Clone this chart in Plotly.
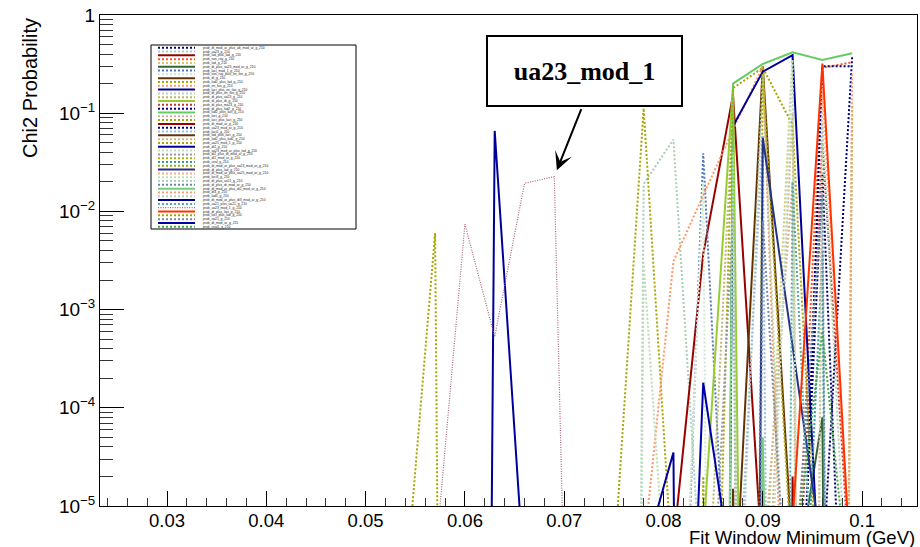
import math
import plotly.graph_objects as go

# Fit window minimum (GeV) at which every chi2 probability curve is sampled
fit_min = [0.054, 0.057, 0.060, 0.063, 0.066, 0.069, 0.072, 0.075,
           0.078, 0.081, 0.084, 0.087, 0.090, 0.093, 0.096, 0.099]

Z = 1e-40  # probability that vanishes far below the axis floor

p01 = [Z, Z, Z, Z, Z, Z, Z, Z, Z, Z, Z, Z, Z, Z, 2e-6, 0.38]
p02 = [Z, Z, Z, Z, Z, Z, Z, Z, 0.019, 0.054, 7.4e-7, Z, Z, Z, Z, Z]
p03 = [Z, Z, Z, Z, Z, Z, Z, Z, Z, 4e-6, 3.7e-3, 0.153, 2.3e-6, Z, Z, Z]
p04 = [Z, Z, Z, Z, Z, Z, Z, Z, Z, Z, Z, Z, Z, 2e-7, 0.29, 0.33]
p05 = [Z, Z, Z, Z, Z, Z, Z, Z, Z, Z, Z, Z, 5e-7, 0.40, Z, Z]
p06 = [Z, Z, Z, Z, Z, Z, Z, Z, Z, Z, Z, Z, Z, 1e-6, 8e-5, Z]
p07 = [Z, Z, Z, Z, Z, Z, Z, Z, Z, 2e-10, 0.039, 4e-8, Z, Z, Z, Z]
p08 = [Z, Z, Z, Z, Z, Z, Z, Z, Z, 1e-9, 0.02, Z, Z, Z, Z, Z]
p09 = [Z, Z, Z, Z, Z, Z, Z, Z, Z, Z, Z, 4.4e-7, 0.30, 3.2e-6, Z, Z]
p10 = [Z, Z, Z, Z, Z, Z, Z, 2.4e-6, 0.112, 1.5e-6, Z, Z, Z, Z, Z, Z]
p11 = [Z, Z, Z, Z, Z, Z, Z, Z, 3.5e-6, 3.1e-3, 0.0145, 0.068, 0.30, 1e-9, Z, Z]
p12 = [Z, Z, Z, Z, Z, Z, Z, Z, Z, Z, Z, 0.074, 0.265, 0.39, 4e-7, Z]
p13 = [Z, Z, Z, Z, Z, Z, Z, Z, Z, Z, Z, 1e-8, 0.25, 1e-8, Z, Z]
p14 = [Z, Z, Z, Z, Z, Z, Z, Z, Z, Z, 1e-7, 0.12, Z, Z, Z, Z]
p15 = [Z, Z, Z, Z, Z, Z, Z, Z, Z, Z, 4.9e-6, 0.19, 1e-25, Z, Z, Z]
p16 = [Z, Z, Z, Z, Z, Z, Z, Z, Z, Z, Z, Z, Z, 1e-7, 0.05, 1e-6]
p17 = [Z, Z, Z, Z, Z, Z, Z, Z, Z, Z, Z, Z, Z, 1e-8, 0.024, 1e-9]
p18 = [Z, Z, Z, Z, Z, Z, Z, Z, Z, Z, Z, 0.20, 0.317, 0.417, 0.348, 0.407]
p19 = [Z, Z, Z, Z, Z, Z, Z, Z, Z, Z, Z, Z, 1e-7, 0.1, Z, Z]
p20 = [Z, Z, Z, Z, Z, Z, Z, Z, Z, Z, 1e-12, 0.18, 0.29, 0.076, 1.6e-7, Z]
p21 = [Z, Z, Z, Z, Z, Z, Z, Z, Z, Z, Z, Z, Z, 2e-5, Z, Z]
p22 = [Z, Z, Z, Z, Z, Z, Z, Z, Z, Z, Z, Z, Z, 1e-9, 0.30, 0.30]
p23 = [Z, Z, Z, Z, Z, Z, Z, Z, Z, Z, Z, 1e-7, 0.06, Z, Z, Z]
p24 = [Z, Z, Z, Z, Z, Z, Z, Z, Z, Z, Z, 1.5e-5, Z, Z, Z, Z]
p25 = [Z, Z, Z, Z, Z, Z, Z, Z, Z, Z, Z, Z, 2e-6, 0.02, Z, Z]
p26 = [1.4e-6, 6e-3, Z, Z, Z, Z, Z, Z, Z, Z, Z, Z, Z, Z, Z, Z]
p27 = [Z, Z, Z, 0.066, 1.7e-6, Z, Z, Z, Z, Z, Z, Z, Z, Z, Z, Z]
p28 = [Z, Z, Z, Z, Z, Z, Z, Z, 3e-3, 1e-7, Z, Z, Z, Z, Z, Z]
p29 = [Z, Z, Z, Z, Z, Z, Z, Z, Z, Z, 1e-8, 0.01, Z, Z, Z, Z]
p30 = [Z, Z, Z, Z, Z, Z, Z, Z, Z, Z, Z, Z, 0.25, 2e-6, Z, Z]
p31 = [Z, Z, Z, Z, Z, Z, Z, Z, Z, Z, Z, Z, Z, 1e-9, 0.004, Z]
p32 = [Z, Z, Z, Z, Z, Z, Z, Z, Z, Z, Z, Z, Z, Z, Z, 0.12]
p33 = [Z, Z, Z, Z, Z, Z, Z, Z, Z, Z, Z, Z, 0.056, 4.3e-4, 3.2e-6, Z]
p34 = [Z, Z, Z, Z, Z, Z, Z, Z, Z, Z, Z, Z, Z, Z, 0.18, 1e-6]
p35 = [Z, Z, Z, Z, Z, Z, Z, Z, Z, Z, Z, Z, 1e-8, 0.35, Z, Z]
p36 = [Z, Z, Z, Z, Z, Z, Z, Z, Z, Z, Z, Z, Z, Z, 0.08, 1e-7]
p37 = [Z, Z, Z, Z, Z, Z, Z, Z, Z, Z, Z, Z, Z, 1e-6, 0.015, Z]
p38 = [Z, Z, Z, Z, Z, Z, Z, Z, Z, Z, Z, Z, 5e-5, Z, Z, Z]
p39 = [Z, Z, Z, Z, Z, Z, Z, Z, Z, Z, Z, Z, Z, Z, Z, 0.25]
p40 = [Z, Z, Z, Z, Z, Z, Z, Z, Z, Z, Z, 0.04, Z, Z, Z, Z]
p41 = [Z, Z, Z, Z, Z, Z, Z, Z, 3e-6, 3.5e-5, Z, Z, Z, Z, Z, Z]
p42 = [Z, Z, Z, Z, Z, Z, Z, Z, Z, Z, Z, Z, Z, 0.02, 1e-8, Z]
p43 = [Z, 2.7e-6, 7.4e-3, 5.3e-4, 0.0193, 0.0226, 6e-15, Z, Z, Z, Z, Z, Z, Z, Z, Z]
p44 = [Z, Z, Z, Z, Z, Z, Z, Z, Z, Z, Z, Z, Z, 7e-6, 0.32, 1.2e-6]
p45 = [Z, Z, Z, Z, Z, Z, Z, Z, Z, Z, 2e-5, Z, Z, Z, Z, Z]
p46 = [Z, Z, Z, Z, Z, Z, Z, Z, Z, Z, Z, Z, 0.008, 1e-7, Z, Z]
p47 = [Z, Z, Z, Z, Z, Z, Z, Z, Z, 6e-12, 1.8e-4, 1.7e-6, Z, Z, Z, Z]
p48 = [Z, Z, Z, Z, Z, Z, Z, Z, Z, Z, Z, Z, Z, 2.2e-6, 6e-4, 6e-7]

names = [
    "prob_dt_mod_ar_plus_ab_mod_ar_g_210", "prob_ua23_g_210", "prob_lad_plus_lad_g_210",
    "prob_nas_ray_g_210", "prob_lad_g_210", "prob_dt_plus_ua23_mod_ar_g_210",
    "prob_lact_mod_1_g_210", "prob_nas_ray_plus_en_fan_g_210", "prob_dt_g_210",
    "prob_lad2_plus_lad_g_210", "prob_en_fan_g_210", "prob_lact_plus_en_fan_g_210",
    "prob_dt_plus_en_fan_g_210", "prob_dt_plus_ua23_g_210", "prob_dt_plus_dt_g_210",
    "prob_dt_plus_ma23_g_210", "prob_dt_plus_lad2_g_210", "prob_lad2_plus_lact_g_210",
    "prob_lact_g_210", "prob_lact_plus_lact_g_210", "prob_dt_mod_ar_g_210",
    "prob_ua23_mod_ar_g_210", "prob_lact2_g_210", "prob_lad_plus_lact_g_210",
    "prob_lad2_plus_lad2_g_210", "prob_ua25_mod_1_g_210", "prob_dt2_g_210",
    "prob_ua23_mod_ar_plus_lad_g_210", "prob_dt2_plus_dt_mod_ar_g_210", "prob_dt2_mod_ar_g_210",
    "prob_cnal_g_210", "prob_dt_mod_ar_plus_ua23_mod_ar_g_210", "prob_dt_plus_lad_g_210",
    "prob_dt_mod_ar_plus_ua25_mod_ar_g_210", "prob_lact3_g_210", "prob_dt_plus_ua21_g_210",
    "prob_dt_plus_dt_mod_ar_g_210", "prob_dt_mod_ar_plus_dt2_mod_ar_g_210", "prob_dt3_g_210",
    "prob_lad3_g_210", "prob_dt_mod_ar_plus_dt3_mod_ar_g_210", "prob_ua21_plus_ua21_g_210",
    "prob_ua23_mod_1_g_210", "prob_dt_plus_lact_g_210", "prob_lact_plus_lad_g_210",
    "prob_ua21_g_210", "prob_dt_mod_ar_g_215", "prob_cnal1_g_210",
]

series = [p01, p02, p03, p04, p05, p06, p07, p08, p09, p10, p11, p12,
          p13, p14, p15, p16, p17, p18, p19, p20, p21, p22, p23, p24,
          p25, p26, p27, p28, p29, p30, p31, p32, p33, p34, p35, p36,
          p37, p38, p39, p40, p41, p42, p43, p44, p45, p46, p47, p48]

colors = [
    "#000080", "#a9cfb4", "#990000", "#ff5522", "#cccc77", "#336633",
    "#5577bb", "#cfe8cf", "#663300", "#a6a600", "#ff9966", "#000099",
    "#b5d6b5", "#bdb76b", "#99cc33", "#cc3333", "#000080", "#66cc66",
    "#d2b48c", "#a6a600", "#990000", "#000080", "#99bbdd", "#663300",
    "#d2b48c", "#a6a600", "#000099", "#b9dcb9", "#999999", "#b0b000",
    "#339999", "#a6a600", "#223388", "#ffaa88", "#c2e0c2", "#aed4ae",
    "#6688aa", "#77cc77", "#ff9977", "#b0d8c0", "#000099", "#55aaaa",
    "#aa6677", "#ff3300", "#a6a600", "#7788aa", "#0000aa", "#44aa44",
]

styles = [
    "dot", "dot", "solid", "dot", "dot", "solid",
    "dot", "dot", "solid", "dot", "dot", "solid",
    "dot", "dot", "solid", "dot", "dot", "solid",
    "dot", "dot", "solid", "dot", "dot", "solid",
    "dot", "dot", "solid", "dot", "dot", "dot",
    "dot", "dot", "solid", "dot", "dot", "dot",
    "dot", "solid", "dot", "dot", "solid", "dot",
    "fine", "solid", "dot", "dot", "solid", "dot",
]

x_ticks = [0.03, 0.04, 0.05, 0.06, 0.07, 0.08, 0.09, 0.1]
x_labels = ["0.03", "0.04", "0.05", "0.06", "0.07", "0.08", "0.09", "0.1"]
y_ticks = [1e-5, 1e-4, 1e-3, 1e-2, 1e-1, 1]
y_labels = ["10<sup>\u22125</sup>", "10<sup>\u22124</sup>", "10<sup>\u22123</sup>",
            "10<sup>\u22122</sup>", "10<sup>\u22121</sup>", "1"]

LINE_STYLE = {
    "solid": dict(width=2, dash="solid"),
    "dot": dict(width=2, dash="2px,2px"),
    "fine": dict(width=1.2, dash="1px,1.4px"),
}

W, H = 920, 547
ML, MR, MT, MB = 100, 3, 15, 41
PW, PH = W - ML - MR, H - MT - MB


def px_x(px):
    return (px - ML) / PW


def px_y(py):
    return (H - MB - py) / PH


fig = go.Figure()
for vals, col, sty in zip(series, colors, styles):
    fig.add_trace(go.Scatter(x=fit_min, y=vals, mode="lines",
                             line=dict(color=col, **LINE_STYLE[sty]),
                             showlegend=False, hoverinfo="skip"))

# legend box with one sample line and label per curve
shapes = [dict(type="rect", xref="paper", yref="paper",
               x0=px_x(151), x1=px_x(356), y0=px_y(229), y1=px_y(45),
               line=dict(color="black", width=1), fillcolor="white", layer="above")]
annotations = []
row0, row_step = 47.7, 3.81
for i, (nm, col, sty) in enumerate(zip(names, colors, styles)):
    yy = px_y(row0 + i * row_step)
    shapes.append(dict(type="line", xref="paper", yref="paper",
                       x0=px_x(158), x1=px_x(195), y0=yy, y1=yy,
                       line=dict(color=col, **LINE_STYLE[sty]), layer="above"))
    annotations.append(dict(text=nm, xref="paper", yref="paper",
                            x=px_x(201), y=yy, xanchor="left", yanchor="middle",
                            showarrow=False, font=dict(size=3.3, color="#222")))

# labelled pointer to the ua23_mod_1 curve
annotations.append(dict(text="<b>ua23_mod_1</b>", xref="paper", yref="paper",
                        x=px_x(584.5), y=px_y(71), xanchor="center", yanchor="middle",
                        showarrow=False, width=193, height=68, borderpad=0,
                        bordercolor="black", borderwidth=2, bgcolor="white",
                        font=dict(family="Liberation Serif", size=26, color="black")))
annotations.append(dict(text="", x=fit_min[5], y=math.log10(p43[5]), xref="x", yref="y",
                        showarrow=True, ax=27.6, ay=-69, standoff=7,
                        arrowhead=3, arrowsize=1.5, arrowwidth=2, arrowcolor="black"))

annotations.append(dict(text="Fit Window Minimum (GeV)", xref="paper", yref="paper",
                        x=1.0, y=px_y(537), xanchor="right", yanchor="middle",
                        showarrow=False, font=dict(size=18.5, color="black")))
annotations.append(dict(text="Chi2 Probability", xref="paper", yref="paper",
                        x=px_x(30), y=px_y(16), xanchor="center", yanchor="top",
                        textangle=-90, showarrow=False,
                        font=dict(size=20, color="black")))

x_minor = [round(0.024 + 0.002 * k, 3) for k in range(42)]
y_minor = [m * 10.0 ** e for e in range(-5, 0) for m in range(2, 10)]

fig.update_layout(
    width=W, height=H,
    margin=dict(l=ML, r=MR, t=MT, b=MB),
    paper_bgcolor="white", plot_bgcolor="white",
    font=dict(family="Liberation Sans", color="black"),
    shapes=shapes, annotations=annotations,
    xaxis=dict(range=[0.02325, 0.10553], tickmode="array", tickvals=x_ticks,
               ticktext=x_labels, ticks="inside", ticklen=15, tickwidth=1,
               tickcolor="black", tickfont=dict(size=18.5), ticklabelstandoff=-2,
               minor=dict(tickmode="array", tickvals=x_minor, ticks="inside",
                          ticklen=8, tickwidth=1, tickcolor="#333", showgrid=False),
               showgrid=False, zeroline=False, showline=True, mirror=True,
               linecolor="black", linewidth=1),
    yaxis=dict(type="log", range=[-5, 0], tickmode="array", tickvals=y_ticks,
               ticktext=y_labels, ticks="inside", ticklen=24, tickwidth=1,
               tickcolor="black", tickfont=dict(size=19),
               minor=dict(tickmode="array", tickvals=y_minor, ticks="inside",
                          ticklen=13, tickwidth=1, tickcolor="#333", showgrid=False),
               showgrid=False, zeroline=False, showline=True, mirror=True,
               linecolor="black", linewidth=1),
)

fig.write_html("out.html")
